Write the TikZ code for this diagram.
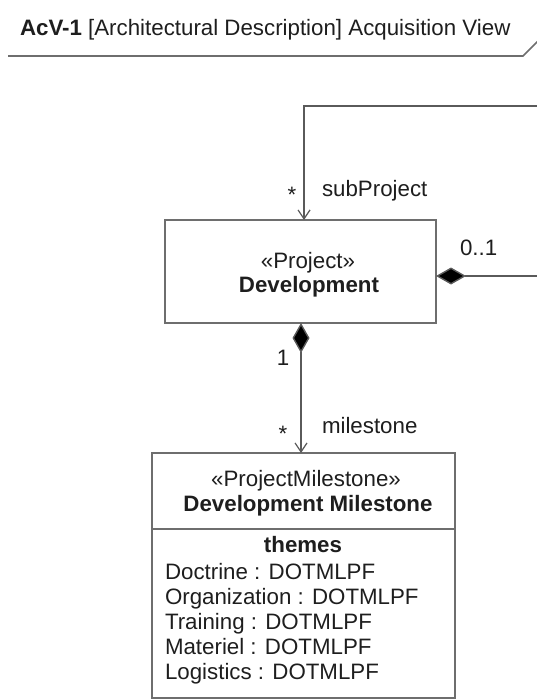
\documentclass[tikz,border=0pt]{standalone}
\usepackage{fontspec}
\setmainfont{Liberation Sans}
\usetikzlibrary{arrows.meta}
\definecolor{linegray}{HTML}{5A5A5A}
\definecolor{boxgray}{HTML}{6E6E6E}
\definecolor{txt}{HTML}{1E1E1E}
\tikzset{
  every node/.style={inner sep=0pt, outer sep=0pt, text=txt, font=\fontsize{22.3pt}{24pt}\selectfont},
  lbl/.style={anchor=base},
  lblw/.style={anchor=base west},
  umlbox/.style={draw=boxgray, line width=1.4pt, fill=white, rectangle},
  conn/.style={draw=linegray, line width=1.4pt},
  compnav/.style={arrows={Diamond[length=30pt,width=17pt,fill=black]-Straight Barb[length=9pt,width=12pt,line width=1.2pt]}},
}
\begin{document}
\begin{tikzpicture}[x=1pt,y=-1pt]
\useasboundingbox (0,0) rectangle (537,700);
\fill[white] (0,0) rectangle (537,700);
\clip (0,0) rectangle (537,700);

% frame header
\node[lblw] (title) at (20,36) {\textbf{AcV-1} [Architectural Description] Acquisition View};
\coordinate (hl) at (8,56);
\coordinate (hm) at (523,56);
\coordinate (hr) at (545,34);
\draw[boxgray, line width=1.6pt] (hl) -- (hm) -- (hr);

% boxes
\node[umlbox, minimum width=271pt, minimum height=103pt] (dev) at (300.5,271.5) {};
\node[umlbox, minimum width=303pt, minimum height=245pt] (ms) at (303.5,575.5) {};
\coordinate (divL) at (152,529);
\coordinate (divR) at (455,529);
\draw[boxgray, line width=1.4pt] (divL) -- (divR);

% texts in Development
\node[lbl] (devst) at (308,268) {«Project»};
\node[lbl] (devnm) at (309,292) {\textbf{Development}};

% texts in milestone
\node[lbl] (msst) at (306,486) {«ProjectMilestone»};
\node[lbl] (msnm) at (308,511) {\textbf{Development Milestone}};
\node[lbl] (themes) at (303,552) {\textbf{themes}};
\node[lblw] (a1) at (165,579) {Doctrine : DOTMLPF};
\node[lblw] (a2) at (165,604) {Organization : DOTMLPF};
\node[lblw] (a3) at (165,629) {Training : DOTMLPF};
\node[lblw] (a4) at (165,654) {Materiel : DOTMLPF};
\node[lblw] (a5) at (165,679) {Logistics : DOTMLPF};

% self association (subProject)
\coordinate (devE) at (436,276);
\coordinate (loopR) at (570,276);
\coordinate (loopTR) at (570,106);
\coordinate (loopTL) at (304,106);
\coordinate (devN) at (304,220);
\draw[conn, compnav] (devE) -- (loopR) -- (loopTR) -- (loopTL) -- (devN);
\node[lblw] (subp) at (322,197) {subProject};
\node[lbl] (subm) at (292,203) {*};
\node[lblw] (zo) at (460,255) {0..1};

% milestone association
\coordinate (devS) at (301,323);
\coordinate (msN) at (301,453);
\draw[conn, compnav] (devS) -- (msN);
\node[lbl] (one) at (283,365) {1};
\node[lblw] (msl) at (322,433) {milestone};
\node[lbl] (msm) at (283,441) {*};
\end{tikzpicture}
\end{document}
